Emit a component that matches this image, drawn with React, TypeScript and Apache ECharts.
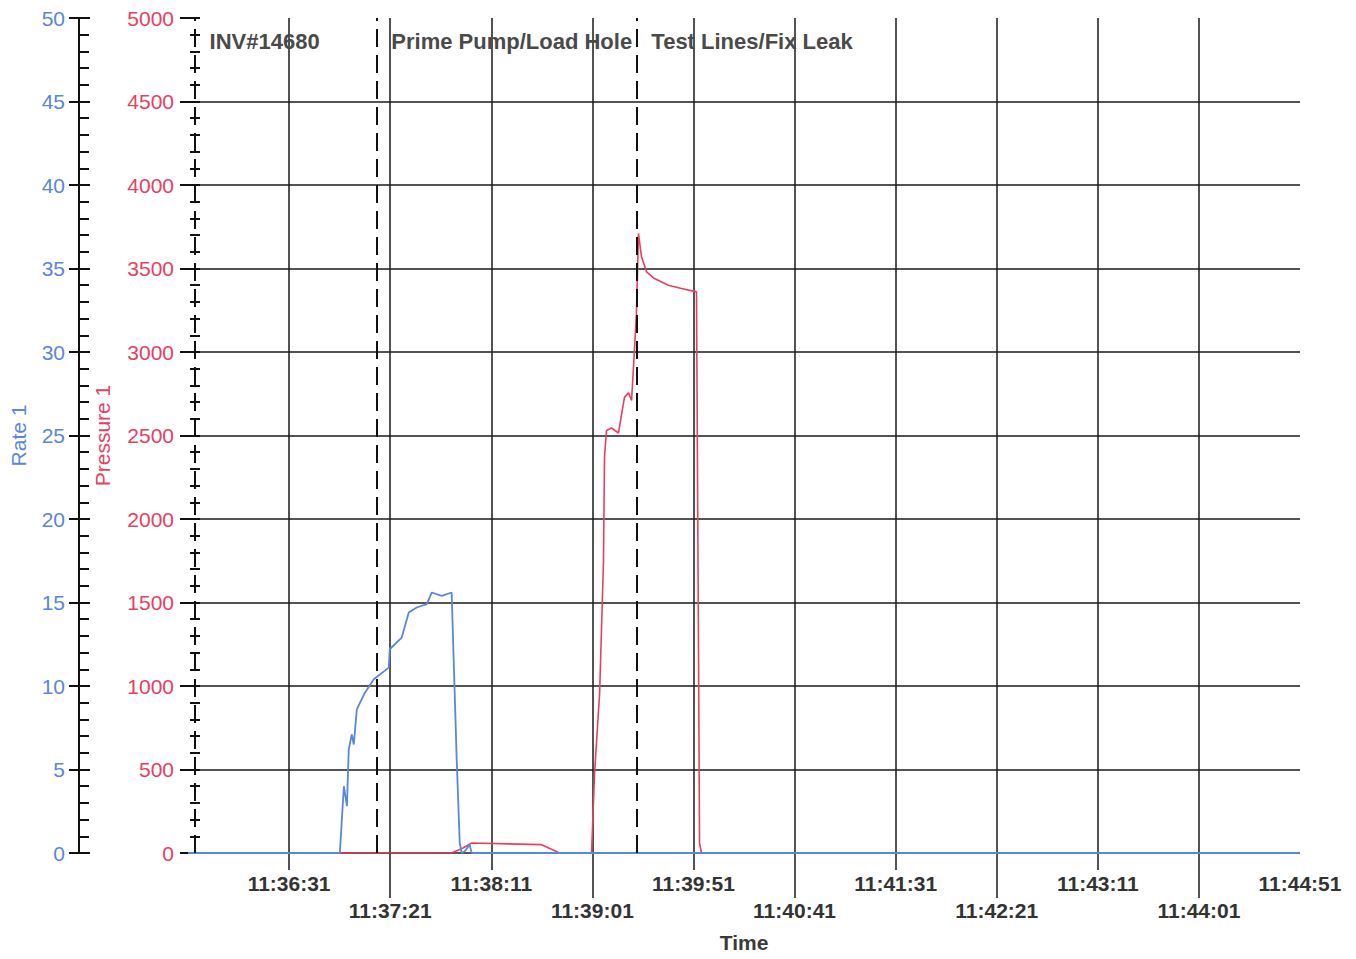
import React, { useEffect, useRef } from "react";
import * as echarts from "echarts";

// seconds since 11:35:41
const START_SECONDS = 11 * 3600 + 35 * 60 + 41;
const X_MAX = 550;

const rateTimes = [0, 75.1, 77.1, 78.6, 79.5, 81.0, 82.0, 83.5, 87.5, 91.9, 99.3, 99.8, 105.7, 109.2, 113.1, 118.1, 120.6, 125.5, 130.4, 131.4, 132.9, 134.4, 135.4, 136.9, 139.3, 140.3, 550];
const rateValues = [0, 0, 4, 2.8, 6.2, 7.1, 6.5, 8.6, 9.6, 10.4, 11.1, 12.2, 12.9, 14.4, 14.7, 14.9, 15.6, 15.4, 15.6, 11.6, 5.6, 0.6, 0, 0.1, 0.5, 0, 0];

const pressureTimes = [0, 130.4, 136, 140.3, 174.9, 183.8, 199.6, 201.1, 203.6, 205.5, 206.0, 207.0, 209.5, 212.9, 215.9, 217.9, 219.4, 220.8, 221.8, 222.8, 224.3, 226.8, 230.7, 237.6, 244.1, 251.5, 252.5, 253.0, 254.0, 550];
const pressureValues = [0, 0, 30, 60, 50, 0, 0, 480, 960, 1750, 2370, 2530, 2545, 2515, 2730, 2755, 2710, 3010, 3230, 3710, 3570, 3480, 3440, 3400, 3380, 3360, 1215, 60, 0, 0];

const eventTimes = [3.5, 93.4, 222];
const eventLabels = ["INV#14680", "Prime Pump/Load Hole", "Test Lines/Fix Leak"];
const eventLabelPressure = 4860;

const upperTickTimes = [50, 150, 250, 350, 450];
const upperLabelTimes = [50, 150, 250, 350, 450, 550];
const lowerTickTimes = [100, 200, 300, 400, 500];

const FONT = "'Liberation Sans', Arial, sans-serif";
const BLUE = "#5a86dc";
const RED = "#e8405f";

function fmtTime(v: number): string {
  const s = Math.round(START_SECONDS + v);
  const h = Math.floor(s / 3600);
  const m = Math.floor((s % 3600) / 60);
  const sec = s % 60;
  const p = (n: number) => (n < 10 ? "0" + n : "" + n);
  return h + ":" + p(m) + ":" + p(sec);
}

export default function App() {
  const ref = useRef<HTMLDivElement>(null);
  useEffect(() => {
    if (!ref.current) return;
    const chart = echarts.init(ref.current, undefined, { renderer: "svg" });
    const rateData = rateTimes.map((t, i) => [t, rateValues[i]]);
    const pressureData = pressureTimes.map((t, i) => [t, pressureValues[i]]);
    const gridLine = { color: "#1a1a1a", width: 1.5 };
    const tickLine = { color: "#111", width: 2 };
    const xBase = {
      type: "value",
      min: 0,
      max: X_MAX,
      interval: 50,
      gridIndex: 0,
      position: "bottom",
      axisLine: { show: false, onZero: false },
    };
    const xLabel = {
      show: true,
      formatter: (v: number) => fmtTime(v),
      fontSize: 21,
      fontWeight: "bold",
      color: "#333",
      fontFamily: FONT,
    };
    const yBase = {
      type: "value",
      position: "left",
      splitLine: { show: false },
    };
    const option: any = {
      animation: false,
      backgroundColor: "#ffffff",
      textStyle: { fontFamily: FONT },
      grid: { left: 186, right: 56, top: 18, bottom: 106, containLabel: false },
      xAxis: [
        {
          ...xBase,
          name: "Time",
          nameLocation: "middle",
          nameGap: 79,
          nameTextStyle: { fontSize: 21, fontWeight: "bold", color: "#3a3a3a", fontFamily: FONT },
          splitLine: { show: false },
          axisTick: { show: true, length: 17, lineStyle: gridLine, customValues: upperTickTimes },
          axisLabel: { ...xLabel, margin: 20, customValues: upperLabelTimes },
        },
        {
          ...xBase,
          splitLine: { show: false },
          axisTick: { show: true, length: 45, lineStyle: gridLine, customValues: lowerTickTimes },
          axisLabel: { ...xLabel, margin: 47, customValues: lowerTickTimes },
        },
        {
          ...xBase,
          axisTick: { show: false },
          axisLabel: { show: false },
          splitLine: { show: true, lineStyle: gridLine, showMinLine: false, showMaxLine: false },
        },
      ],
      yAxis: [
        {
          ...yBase,
          min: 0,
          max: 50,
          interval: 5,
          offset: 109,
          name: "Rate 1",
          nameLocation: "middle",
          nameGap: 50,
          nameTextStyle: { fontSize: 21, color: BLUE, fontFamily: FONT },
          axisLine: { show: true, onZero: false, lineStyle: tickLine },
          axisTick: { show: true, length: 10, lineStyle: tickLine },
          axisLabel: { margin: 14, fontSize: 21, color: BLUE, fontFamily: FONT },
        },
        {
          ...yBase,
          min: 0,
          max: 50,
          interval: 5,
          offset: 109,
          axisLine: { show: false, onZero: false },
          axisTick: { show: true, inside: true, length: 11, lineStyle: tickLine },
          minorTick: { show: true, splitNumber: 5, length: 10, lineStyle: tickLine },
          axisLabel: { show: false },
        },
        {
          ...yBase,
          min: 0,
          max: 5000,
          interval: 500,
          offset: -7,
          name: "Pressure 1",
          nameLocation: "middle",
          nameGap: 82,
          nameTextStyle: { fontSize: 21, color: RED, fontFamily: FONT },
          axisLine: { show: false, onZero: false },
          axisTick: { show: true, length: 15, lineStyle: tickLine },
          minorTick: { show: true, splitNumber: 5, length: 5, lineStyle: tickLine },
          axisLabel: { margin: 21, fontSize: 21, color: RED, fontFamily: FONT, formatter: (v: number) => String(v) },
          splitLine: { show: true, lineStyle: gridLine, showMaxLine: false },
        },
        {
          ...yBase,
          min: 0,
          max: 5000,
          interval: 500,
          offset: -7,
          axisLine: { show: false, onZero: false },
          axisTick: { show: true, inside: true, length: 5, lineStyle: tickLine },
          minorTick: { show: true, splitNumber: 5, length: 5, lineStyle: tickLine },
          axisLabel: { show: false },
        },
      ],
      series: [
        {
          type: "line",
          name: "Pressure 1",
          xAxisIndex: 0,
          yAxisIndex: 2,
          data: pressureData,
          showSymbol: false,
          symbol: "none",
          lineStyle: { color: RED, width: 1.6 },
          markLine: {
            silent: true,
            symbol: "none",
            label: { show: false },
            lineStyle: { color: "#111", width: 2, type: [18, 8] },
            data: eventTimes.map((t) => ({ xAxis: t })),
          },
          markPoint: {
            symbol: "rect",
            symbolSize: 1,
            itemStyle: { color: "transparent" },
            label: {
              show: true,
              position: "right",
              distance: 14,
              fontSize: 22,
              fontWeight: "bold",
              color: "#4a4a4a",
              fontFamily: FONT,
              formatter: (p: any) => p.name,
            },
            data: eventTimes.map((t, i) => ({ name: eventLabels[i], coord: [t, eventLabelPressure] })),
          },
        },
        {
          type: "line",
          name: "Rate 1",
          xAxisIndex: 0,
          yAxisIndex: 0,
          data: rateData,
          showSymbol: false,
          symbol: "none",
          lineStyle: { color: BLUE, width: 1.8 },
        },
      ],
    };
    chart.setOption(option);
    return () => chart.dispose();
  }, []);
  return (
    <div
      ref={ref}
      style={{ position: "absolute", left: 0, top: 0, width: 1356, height: 959 }}
    />
  );
}
